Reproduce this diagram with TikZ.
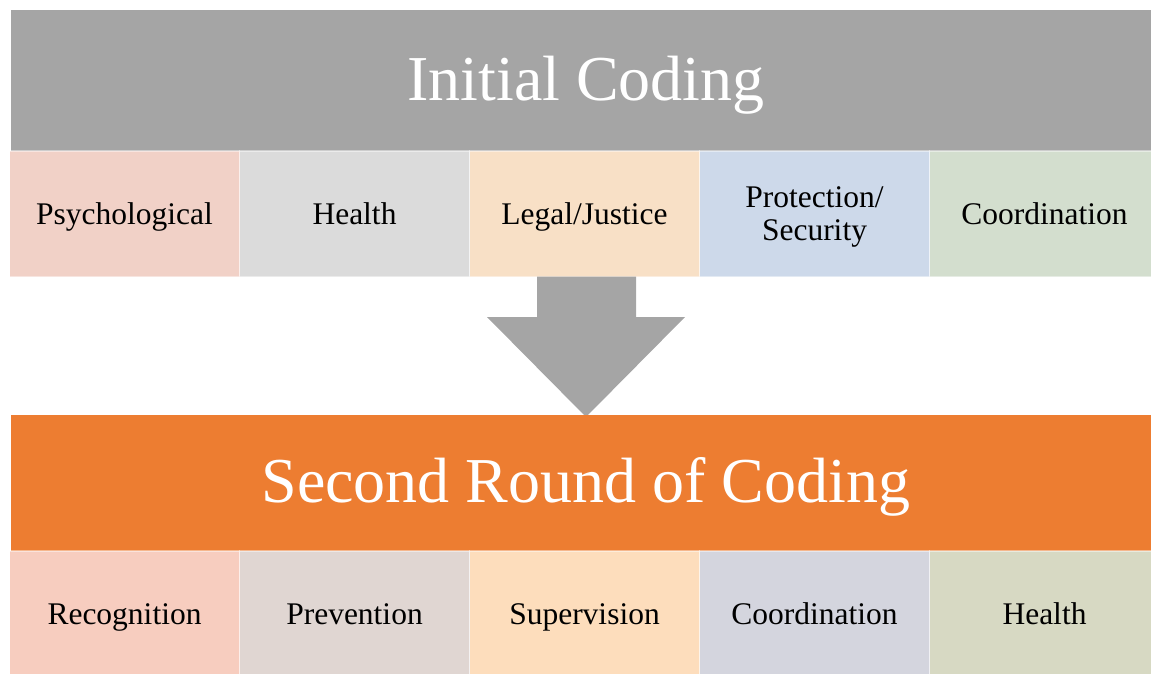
\documentclass[tikz,border=0pt]{standalone}
\usepackage{fontspec}
\setmainfont{Liberation Serif}
\definecolor{headgray}{HTML}{A5A5A5}
\definecolor{headorange}{HTML}{ED7D31}
\definecolor{psychfill}{HTML}{F1D1C7}
\definecolor{healthfill}{HTML}{DBDBDB}
\definecolor{legalfill}{HTML}{F8E0C6}
\definecolor{protectfill}{HTML}{CDD9EA}
\definecolor{coordfill}{HTML}{D3DECE}
\definecolor{recogfill}{HTML}{F7CDBF}
\definecolor{preventfill}{HTML}{E0D6D2}
\definecolor{supervfill}{HTML}{FDDDBC}
\definecolor{coordbfill}{HTML}{D4D5DE}
\definecolor{healthbfill}{HTML}{D7D9C3}
\begin{document}
\begin{tikzpicture}[x=1pt,y=-1pt,
    header/.style={inner sep=0pt, minimum width=1150pt, text=white,
      text height=44pt, text depth=4.25pt,
      font=\fontsize{64}{70}\selectfont},
    topic/.style={inner sep=0pt, minimum width=230pt, minimum height=125.5pt,
      draw=white, draw opacity=0.45, line width=1.5pt, align=center,
      text height=28pt, text depth=6.5pt,
      font=\fontsize{31.5}{33}\selectfont}]
  \useasboundingbox (0,0) rectangle (1151,673);
  \clip (0,0) rectangle (1151,673);
  % first round
  \node[header, fill=headgray, minimum height=140.5pt] (initial) at (586,80.25) {Initial Coding};
  \node[topic, fill=psychfill] (psych) at (124.5,213.75) {Psychological};
  \node[topic, fill=healthfill] (health) at (354.5,213.75) {Health};
  \node[topic, fill=legalfill] (legal) at (584.5,213.75) {Legal/Justice};
  \node[topic, fill=protectfill, text height=59pt, text depth=6.5pt] (protect) at (814.5,213.75) {Protection/\\Security};
  \node[topic, fill=coordfill] (coord) at (1044.5,213.75) {Coordination};
  % block arrow
  \fill[headgray] (537,276.5) -- (636,276.5) -- (636,317) -- (685,317)
    -- (586,417) -- (487,317) -- (537,317) -- cycle;
  % second round
  \node[header, fill=headorange, minimum height=136pt] (second) at (586,483) {Second Round of Coding};
  \node[topic, fill=recogfill] (recog) at (124.5,613.75) {Recognition};
  \node[topic, fill=preventfill] (prevent) at (354.5,613.75) {Prevention};
  \node[topic, fill=supervfill] (superv) at (584.5,613.75) {Supervision};
  \node[topic, fill=coordbfill] (coordb) at (814.5,613.75) {Coordination};
  \node[topic, fill=healthbfill] (healthb) at (1044.5,613.75) {Health};
\end{tikzpicture}
\end{document}
